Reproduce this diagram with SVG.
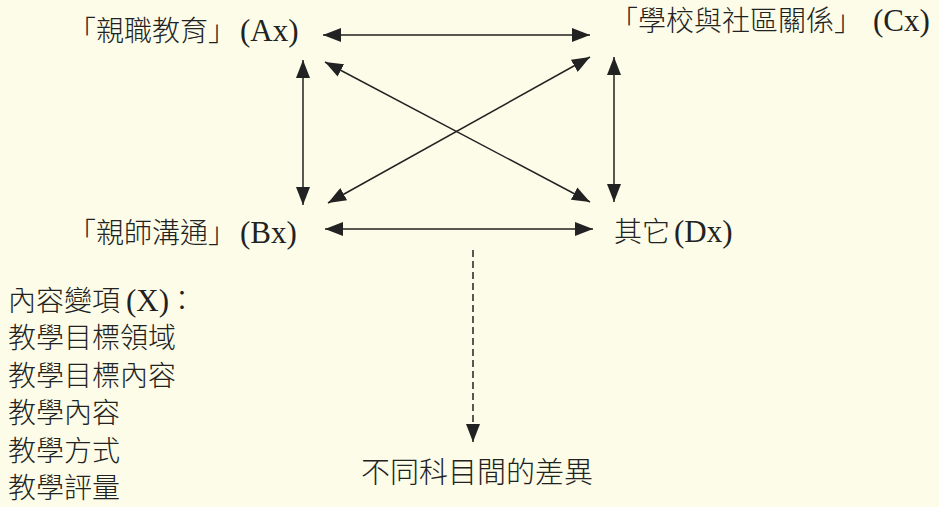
<svg xmlns="http://www.w3.org/2000/svg" width="939" height="507" viewBox="0 0 939 507">
<style>
.cjk{font-family:"Noto Sans CJK TC","Noto Sans CJK SC",sans-serif;font-size:28px;font-weight:300;fill:#222}
.big{font-size:29px}
.lat{font-family:"Liberation Serif",serif;font-size:31px;fill:#222}
.ln{stroke:#222;stroke-width:1.5;fill:none}
.dash{stroke-dasharray:7 4}
</style>
<defs>
<marker id="ah" viewBox="0 0 18 14" refX="18" refY="7" markerWidth="18" markerHeight="14" markerUnits="userSpaceOnUse" orient="auto-start-reverse">
<path d="M0,0 L18,7 L0,14 z" fill="#222"/>
</marker>
</defs>
<rect width="939" height="507" fill="#fcfce8"/>
<g id="connectors">
<line class="ln" x1="323" y1="35" x2="590" y2="35" marker-start="url(#ah)" marker-end="url(#ah)"/>
<line class="ln" x1="325" y1="229" x2="593" y2="229" marker-start="url(#ah)" marker-end="url(#ah)"/>
<line class="ln" x1="303" y1="60" x2="303" y2="205" marker-start="url(#ah)" marker-end="url(#ah)"/>
<line class="ln" x1="614" y1="57" x2="614" y2="202" marker-start="url(#ah)" marker-end="url(#ah)"/>
<line class="ln" x1="325" y1="62" x2="590" y2="202" marker-start="url(#ah)" marker-end="url(#ah)"/>
<line class="ln" x1="590" y1="57" x2="328" y2="203" marker-start="url(#ah)" marker-end="url(#ah)"/>
<line class="ln dash" x1="473" y1="250" x2="473" y2="442" marker-end="url(#ah)"/>
</g>
<g id="nodeA">
<text x="68" y="41"><tspan class="cjk">「親職教育」</tspan><tspan class="lat" x="240">(Ax)</tspan></text>
</g>
<g id="nodeB">
<text x="68" y="243"><tspan class="cjk">「親師溝通」</tspan><tspan class="lat" x="240">(Bx)</tspan></text>
</g>
<g id="nodeC">
<text x="610" y="31"><tspan class="cjk">「學校與社區關係」</tspan><tspan class="lat" x="873">(Cx)</tspan></text>
</g>
<g id="nodeD">
<text x="614" y="242"><tspan class="cjk">其它</tspan><tspan class="lat" x="674">(Dx)</tspan></text>
</g>
<g id="nodeX">
<text x="8" y="311"><tspan class="cjk">內容變項</tspan><tspan class="lat" x="126">(X)</tspan><tspan class="cjk" x="168">：</tspan></text>
<text class="cjk" x="8" y="348">教學目標領域</text>
<text class="cjk" x="8" y="386">教學目標內容</text>
<text class="cjk" x="8" y="423">教學內容</text>
<text class="cjk" x="8" y="461">教學方式</text>
<text class="cjk" x="8" y="498">教學評量</text>
</g>
<g id="nodeY">
<text class="cjk big" x="361" y="483">不同科目間的差異</text>
</g>
</svg>
